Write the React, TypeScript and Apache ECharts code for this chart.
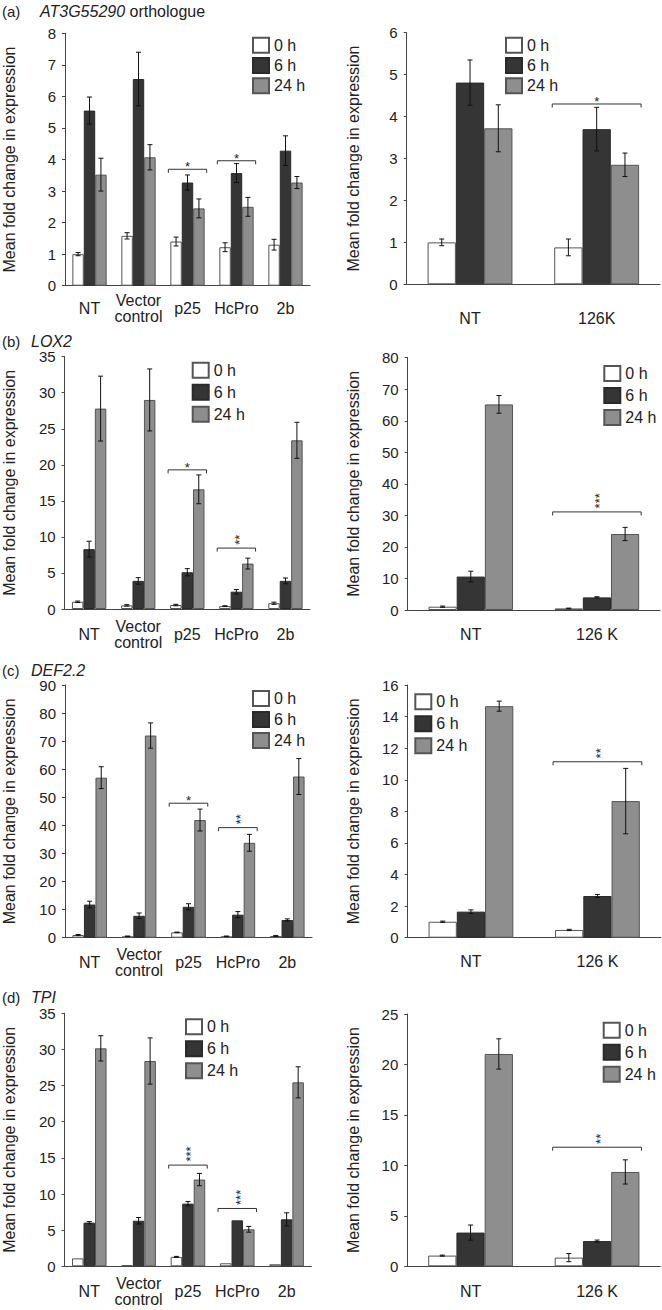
import React, { useEffect, useRef } from 'react';
import * as echarts from 'echarts';

const timePoints = ['0 h', '6 h', '24 h'];
const virusGroups = ['NT', 'Vector\ncontrol', 'p25', 'HcPro', '2b'];
const tmvGroupsA = ['NT', '126K'];
const tmvGroups = ['NT', '126 K'];
const yAxisTitle = 'Mean fold change in expression';

// (a) AT3G55290 orthologue  — rows: 0 h, 6 h, 24 h
const aLeftMeans = [[1.0, 1.58, 1.4, 1.22, 1.3], [5.55, 6.55, 3.27, 3.57, 4.28], [3.52, 4.07, 2.45, 2.5, 3.27]];
const aLeftErrors = [[0.05, 0.1, 0.14, 0.14, 0.17], [0.43, 0.85, 0.24, 0.3, 0.47], [0.52, 0.4, 0.3, 0.3, 0.19]];
const aLeftSig = [[2, 3.69, 1], [3, 3.96, 1]];
const aRightMeans = [[1.0, 0.88], [4.81, 3.7], [3.72, 2.85]];
const aRightErrors = [[0.08, 0.2], [0.54, 0.52], [0.56, 0.28]];
const aRightSig = [[1, 4.3, 1]];

// (b) LOX2
const bLeftMeans = [[1.0, 0.5, 0.55, 0.4, 0.8], [8.3, 3.9, 5.1, 2.4, 3.9], [27.8, 29.0, 16.6, 6.3, 23.4]];
const bLeftErrors = [[0.1, 0.1, 0.1, 0.05, 0.15], [1.1, 0.45, 0.5, 0.3, 0.4], [4.5, 4.3, 2.0, 0.75, 2.5]];
const bLeftSig = [[2, 19.3, 1], [3, 8.45, 2]];
const bRightMeans = [[1.05, 0.5], [10.6, 4.0], [65.2, 24.1]];
const bRightErrors = [[0.2, 0.1], [1.7, 0.2], [2.8, 2.1]];
const bRightSig = [[1, 31.1, 3]];

// (c) DEF2.2
const cLeftMeans = [[0.95, 0.5, 1.9, 0.5, 0.6], [11.8, 7.8, 11.0, 8.2, 6.3], [57.0, 72.0, 41.9, 33.8, 57.4]];
const cLeftErrors = [[0.2, 0.1, 0.1, 0.1, 0.2], [1.2, 1.0, 1.1, 1.1, 0.4], [3.9, 4.5, 3.9, 3.0, 6.4]];
const cLeftSig = [[2, 47.9, 1], [3, 39.2, 2]];
const cRightMeans = [[1.01, 0.49], [1.65, 2.64], [14.66, 8.65]];
const cRightErrors = [[0.04, 0.04], [0.11, 0.1], [0.32, 2.07]];
const cRightSig = [[1, 11.14, 2]];

// (d) TPI
const dLeftMeans = [[1.1, 0.18, 1.3, 0.42, 0.28], [6.04, 6.3, 8.67, 6.36, 6.5], [30.15, 28.4, 12.0, 5.12, 25.45]];
const dLeftErrors = [[0, 0, 0.07, 0, 0], [0.15, 0.45, 0.3, 0, 0.9], [1.75, 3.2, 0.85, 0.4, 2.15]];
const dLeftSig = [[2, 14.0, 3], [3, 8.0, 3]];
const dRightMeans = [[1.06, 0.86], [3.34, 2.5], [21.04, 9.35]];
const dRightErrors = [[0.05, 0.4], [0.75, 0.1], [1.5, 1.2]];
const dRightSig = [[1, 11.8, 2]];

const panelTitles = [
  { letter: '(a)', gene: 'AT3G55290', suffix: ' orthologue', x: 40, y: 11 },
  { letter: '(b)', gene: 'LOX2', suffix: '', x: 31, y: 341 },
  { letter: '(c)', gene: 'DEF2.2', suffix: '', x: 31, y: 670 },
  { letter: '(d)', gene: 'TPI', suffix: '', x: 31, y: 997.5 },
];

const panels = [
  { cats: virusGroups, means: aLeftMeans, errs: aLeftErrors, sig: aLeftSig, max: 8, interval: 1,
    grid: { left: 58, top: 33.3, width: 252, height: 252.4 }, gap: 0.3, legend: { left: 252, top: 36.7, pitch: 18.3 }, labelMargin: 23, nameGap: 48 },
  { cats: tmvGroupsA, means: aRightMeans, errs: aRightErrors, sig: aRightSig, max: 6, interval: 1,
    grid: { left: 406.7, top: 32.7, width: 253.3, height: 251.6 }, gap: 0.33, legend: { left: 505, top: 36.7, pitch: 18.3 }, labelMargin: 34, nameGap: 45 },
  { cats: virusGroups, means: bLeftMeans, errs: bLeftErrors, sig: bLeftSig, max: 35, interval: 5,
    grid: { left: 57.3, top: 356.7, width: 252.7, height: 252.3 }, gap: 0.3, legend: { left: 191.7, top: 361.7, pitch: 20 }, labelMargin: 25, nameGap: 47.6 },
  { cats: tmvGroups, means: bRightMeans, errs: bRightErrors, sig: bRightSig, max: 80, interval: 10,
    grid: { left: 407.7, top: 357.7, width: 252.3, height: 252.3 }, gap: 0.33, legend: { left: 603.3, top: 365, pitch: 20 }, labelMargin: 24, nameGap: 46 },
  { cats: virusGroups, means: cLeftMeans, errs: cLeftErrors, sig: cLeftSig, max: 90, interval: 10,
    grid: { left: 58, top: 685, width: 254, height: 252.7 }, gap: 0.3, legend: { left: 252, top: 690, pitch: 19 }, labelMargin: 25, nameGap: 48 },
  { cats: tmvGroups, means: cRightMeans, errs: cRightErrors, sig: cRightSig, max: 16, interval: 2,
    grid: { left: 407.7, top: 685, width: 253, height: 252.7 }, gap: 0.33, legend: { left: 414.3, top: 693.3, pitch: 20 }, labelMargin: 24, nameGap: 46 },
  { cats: virusGroups, means: dLeftMeans, errs: dLeftErrors, sig: dLeftSig, max: 35, interval: 5,
    grid: { left: 57.3, top: 1013.3, width: 254, height: 253 }, gap: 0.3, legend: { left: 185, top: 1018.3, pitch: 20 }, labelMargin: 25, nameGap: 47.6 },
  { cats: tmvGroups, means: dRightMeans, errs: dRightErrors, sig: dRightSig, max: 25, interval: 5,
    grid: { left: 407.3, top: 1014, width: 253, height: 252.3 }, gap: 0.33, legend: { left: 602.7, top: 1021.7, pitch: 20 }, labelMargin: 25, nameGap: 46 },
];

const FONT = '"Liberation Sans", Arial, Helvetica, sans-serif';
const TEXT = '#222';
const AXIS = '#444';
const barFills = ['#ffffff', '#353535', '#8e8e8e'];
const barBorders = ['#555555', '#2a2a2a', '#555555'];

function buildOption() {
  const grid: any[] = [];
  const xAxis: any[] = [];
  const yAxis: any[] = [];
  const series: any[] = [];
  const legend: any[] = [];

  panels.forEach((p, pi) => {
    grid.push({ ...p.grid, containLabel: false });
    xAxis.push({
      type: 'category', gridIndex: pi, data: p.cats,
      axisLine: { lineStyle: { color: AXIS, width: 1 } },
      axisTick: { length: 3, lineStyle: { color: AXIS } },
      axisLabel: { interval: 0, fontSize: 16, lineHeight: 16, color: TEXT, fontFamily: FONT, verticalAlign: 'middle', margin: p.labelMargin },
    });
    yAxis.push({
      type: 'value', gridIndex: pi, min: 0, max: p.max, interval: p.interval,
      axisLine: { show: true, lineStyle: { color: AXIS, width: 1 } },
      axisTick: { show: true, length: 3, lineStyle: { color: AXIS } },
      splitLine: { show: false },
      axisLabel: { fontSize: 15, color: TEXT, fontFamily: FONT, margin: 9 },
      name: yAxisTitle, nameLocation: 'middle', nameGap: p.nameGap,
      nameTextStyle: { fontSize: 16, color: TEXT, fontFamily: FONT },
    });
    const gapPct = Math.round(p.gap * 100) + '%';
    timePoints.forEach((t, k) => {
      series.push({
        type: 'bar', name: t, xAxisIndex: pi, yAxisIndex: pi,
        data: p.means[k], barGap: '0%', barCategoryGap: gapPct,
        itemStyle: { color: barFills[k], borderColor: barBorders[k], borderWidth: 1 },
        silent: true,
      });
    });
    const errData: number[][] = [];
    timePoints.forEach((_, k) => {
      p.cats.forEach((_, i) => {
        errData.push([i, k, p.means[k][i], p.errs[k][i]]);
      });
    });
    const gap = p.gap;
    series.push({
      type: 'custom', name: 'err' + pi, xAxisIndex: pi, yAxisIndex: pi, z: 5, silent: true,
      encode: { x: 0, y: 2 },
      data: errData,
      renderItem: (params: any, api: any) => {
        const cat = api.value(0), k = api.value(1), m = api.value(2), e = api.value(3);
        if (!e) return null;
        const band = api.size([1, 0])[0];
        const barW = band * (1 - gap) / 3;
        const cx = api.coord([cat, 0])[0] + (k - 1) * barW;
        const yT = api.coord([cat, m + e])[1];
        const yB = api.coord([cat, m - e])[1];
        const cap = 2.5;
        const st = { stroke: '#111', lineWidth: 1 };
        return {
          type: 'group', children: [
            { type: 'line', shape: { x1: cx, y1: yT, x2: cx, y2: yB }, style: st },
            { type: 'line', shape: { x1: cx - cap, y1: yT, x2: cx + cap, y2: yT }, style: st },
            { type: 'line', shape: { x1: cx - cap, y1: yB, x2: cx + cap, y2: yB }, style: st },
          ],
        };
      },
    });
    series.push({
      type: 'custom', name: 'sig' + pi, xAxisIndex: pi, yAxisIndex: pi, z: 6, silent: true,
      encode: { x: 0, y: 1 },
      data: p.sig,
      renderItem: (params: any, api: any) => {
        const cat = api.value(0), yv = api.value(1), n = api.value(2);
        const band = api.size([1, 0])[0];
        const half = band * (1 - gap) / 2 + 2;
        const pt = api.coord([cat, yv]);
        const x1 = pt[0] - half, x2 = pt[0] + half, y = pt[1];
        let stars = '';
        for (let j = 0; j < n; j++) stars += '*';
        const starStyle = { text: stars, fontSize: 13, fontFamily: FONT, fill: TEXT, align: 'center', verticalAlign: 'middle' };
        const starEl = n > 1
          ? { type: 'group', x: pt[0] + 3, y: y - 3 - n * 2.7, rotation: Math.PI / 2,
              children: [{ type: 'text', x: 0, y: 0, style: starStyle }] }
          : { type: 'text', x: pt[0], y: y - 2.5, style: starStyle };
        return {
          type: 'group', children: [
            { type: 'polyline', shape: { points: [[x1, y + 3.5], [x1, y], [x2, y], [x2, y + 3.5]] }, style: { stroke: '#333', lineWidth: 1, fill: 'none' } },
            starEl,
          ],
        };
      },
    });
    legend.push({
      data: timePoints, orient: 'vertical', left: p.legend.left, top: p.legend.top,
      itemWidth: 16, itemHeight: 15, itemGap: p.legend.pitch - 15, padding: 0, icon: 'rect',
      selectedMode: false,
      textStyle: { fontSize: 16, lineHeight: 15, color: TEXT, fontFamily: FONT },
    });
  });

  const graphic: any[] = [];
  panelTitles.forEach((t) => {
    graphic.push({ type: 'text', x: 2, y: t.y, style: { text: t.letter, fontSize: 15, fontFamily: FONT, fill: TEXT, verticalAlign: 'middle' } });
    graphic.push({
      type: 'text', x: t.x, y: t.y,
      style: {
        text: '{i|' + t.gene + '}' + (t.suffix ? '{r|' + t.suffix + '}' : ''),
        rich: {
          i: { fontSize: 16, fontStyle: 'italic', fontFamily: FONT, fill: TEXT },
          r: { fontSize: 16, fontFamily: FONT, fill: TEXT },
        },
        verticalAlign: 'middle',
      },
    });
  });

  return { animation: false, backgroundColor: '#fff', grid, xAxis, yAxis, series, legend, graphic };
}

export default function App() {
  const ref = useRef<HTMLDivElement>(null);
  useEffect(() => {
    if (!ref.current) return;
    const chart = echarts.init(ref.current, undefined, { renderer: 'svg' });
    chart.setOption(buildOption() as any);
    return () => chart.dispose();
  }, []);
  return <div ref={ref} style={{ position: 'absolute', left: 0, top: 0, width: 662, height: 1310 }} />;
}
